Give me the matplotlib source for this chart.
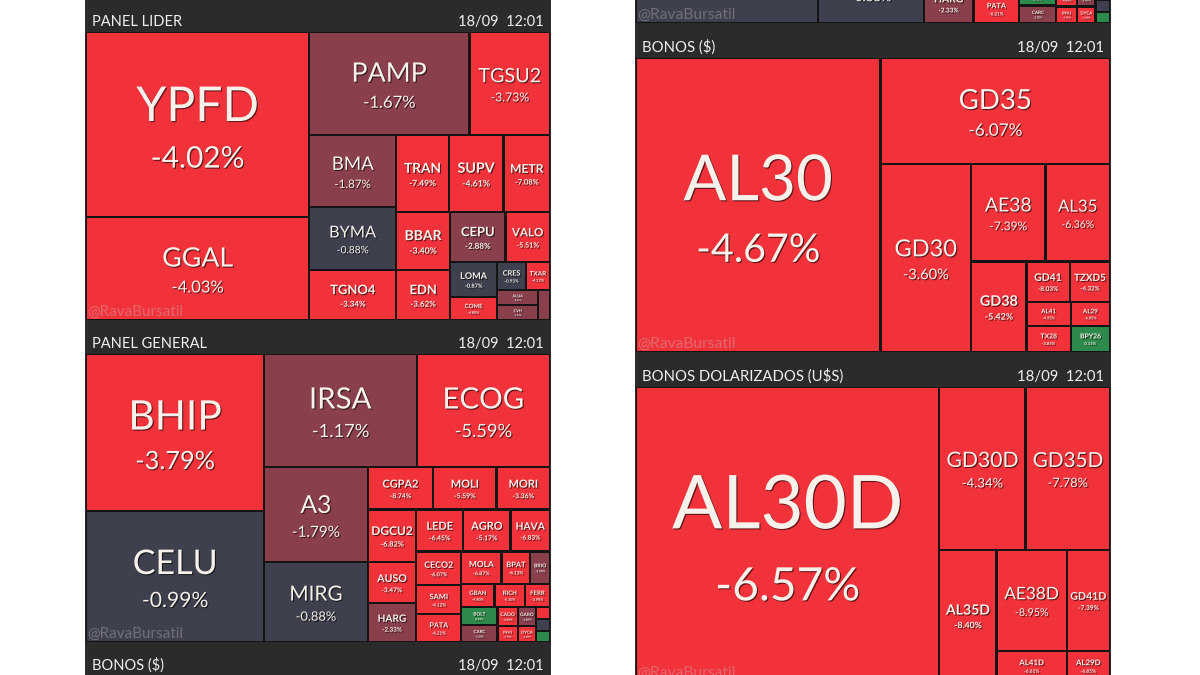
import matplotlib
matplotlib.use('Agg')
import matplotlib.pyplot as plt
import matplotlib.patheffects as pe
from matplotlib.patches import Rectangle

plt.rcParams['font.family'] = ['Lato', 'DejaVu Sans']

# ---- datos (volumen relativo = area del cuadro, variacion %) ----
lider_tickers = ['YPFD', 'GGAL', 'PAMP', 'TGSU2', 'BMA', 'BYMA', 'TGNO4', 'TRAN', 'SUPV', 'METR',
                 'BBAR', 'EDN', 'CEPU', 'VALO', 'LOMA', 'COME', 'CRES', 'TXAR', 'ALUA', 'CVH', 'TECO2']
lider_volume = [40885, 22763, 16377, 8240, 6192, 5418, 4300, 4004, 4158, 3542,
                3074, 2650, 2750, 2200, 1645, 1081, 784, 672, 600, 600, 360]
lider_change = [-4.02, -4.03, -1.67, -3.73, -1.87, -0.88, -3.34, -7.49, -4.61, -7.08,
                -3.40, -3.62, -2.88, -5.51, -0.87, -4.00, -0.93, -4.12, -2.41, -1.95, -2.10]
lider_strips = [('v', 2), ('h', 2), ('v', 3), ('h', 3), ('v', 2), ('h', 2), ('v', 2), ('h', 2), ('v', 2), ('v', 1)]

general_tickers = ['BHIP', 'CELU', 'IRSA', 'ECOG', 'A3', 'MIRG', 'CGPA2', 'MOLI', 'MORI',
                   'DGCU2', 'AUSO', 'HARG', 'LEDE', 'AGRO', 'HAVA', 'CECO2', 'SAMI', 'PATA',
                   'MOLA', 'BPAT', 'BRIO', 'GBAN', 'RICH', 'FERR', 'BOLT', 'CARC', 'CADO', 'INVJ',
                   'GARO', 'DYCA', 'ROSE', 'CTIO', 'LONG']
general_volume = [27632, 23056, 17063, 14916, 9690, 8160, 2730, 2646, 2226,
                  2544, 1968, 1872, 1932, 1974, 1638, 1496, 1276, 1232,
                  1287, 924, 627, 759, 690, 575, 648, 612, 380, 320,
                  342, 288, 168, 168, 154]
general_change = [-3.79, -0.99, -1.17, -5.59, -1.79, -0.88, -8.74, -5.59, -3.36,
                  -6.82, -3.47, -2.33, -6.45, -5.17, -6.83, -6.07, -4.12, -6.21,
                  -6.87, -6.13, -2.45, -4.80, -5.10, -3.90, 0.45, -2.20, -4.60, -3.70,
                  -2.60, -4.20, -3.30, -0.60, 0.80]
general_strips = [('v', 2), ('h', 2), ('v', 2), ('h', 3), ('v', 3), ('h', 3), ('v', 3), ('h', 3),
                  ('h', 3), ('v', 2), ('v', 2), ('v', 2), ('v', 3)]

bonos_tickers = ['AL30', 'GD35', 'GD30', 'AE38', 'AL35', 'GD38', 'GD41', 'TZXD5',
                 'AL41', 'AL29', 'TX28', 'BPY26']
bonos_volume = [71199, 24168, 16830, 7178, 6208, 4950, 1720, 1600, 1056, 936, 1144, 1014]
bonos_change = [-4.67, -6.07, -3.60, -7.39, -6.36, -5.42, -8.03, -4.32, -4.95, -6.05, -3.85, 0.15]
bonos_strips = [('v', 1), ('h', 1), ('v', 1), ('h', 2), ('v', 1), ('h', 2), ('h', 2), ('h', 2)]

dolar_tickers = ['AL30D', 'GD30D', 'GD35D', 'AL35D', 'AE38D', 'GD41D', 'AL41D', 'AL29D']
dolar_volume = [88494, 14000, 13700, 7410, 7000, 4300, 2100, 1290]
dolar_change = [-6.57, -4.34, -7.78, -8.40, -8.95, -7.39, -6.61, -6.85]
dolar_strips = [('v', 1), ('h', 2), ('v', 1), ('h', 2), ('h', 2)]

panel_titles = ['PANEL LIDER', 'PANEL GENERAL', 'BONOS ($)', 'BONOS DOLARIZADOS (U$S)']
stamp = '18/09  12:01'

panels = [(lider_tickers, lider_volume, lider_change, lider_strips),
          (general_tickers, general_volume, general_change, general_strips),
          (bonos_tickers, bonos_volume, bonos_change, bonos_strips),
          (dolar_tickers, dolar_volume, dolar_change, dolar_strips)]

HEADER = '#2b2b2b'
GAP = '#141414'
PAGE_W = 466
HEAD_H = 34
CELL_H = 288


def cell_color(chg):
    if chg > 0:
        return '#2e8a4c'
    if chg > -1:
        return '#3e404e'
    if chg > -3:
        return '#8a3f4c'
    return '#f2323b'


def layout(x, y, w, h, values, strips):
    # tiras al estilo squarify, la direccion de cada tira viene dada
    rects = []
    i = 0
    for d, n in strips:
        part = values[i:i + n]
        frac = sum(part) / sum(values[i:])
        if d == 'v':
            cw = w * frac
            cy = y
            for v in part:
                ch = h * v / sum(part)
                rects.append((x, cy, cw, ch))
                cy += ch
            x += cw
            w -= cw
        else:
            rh = h * frac
            cx = x
            for v in part:
                cw = w * v / sum(part)
                rects.append((cx, y, cw, rh))
                cx += cw
            y += rh
            h -= rh
        i += n
    return rects


def visible(view, base, cap):
    # el texto ocupa [base - cap, base] en coordenadas de pagina
    return base > view[0] and base - cap < view[1]


def label_cell(ax, x, y, w, h, name, chg, scale, view):
    fs = min(0.26 * min(w, h), 0.76 * w / (0.62 * len(name)))
    if fs * scale < 3.5:
        return
    cap = 0.717 * fs
    cx, cy = x + w / 2, y + h / 2
    weight = 'normal' if fs * scale > 16 else 'bold'
    shadow = [pe.withSimplePatchShadow(offset=(0.8, -0.8), shadow_rgbFace='black', alpha=0.6)]
    b1 = cy - 0.1 * cap
    b2 = cy + 1.25 * cap
    if visible(view, b1, cap):
        ax.text(cx, b1, name, fontsize=fs * scale * 0.72, ha='center', va='baseline',
                color='#f6f1ea', weight=weight, path_effects=shadow, clip_on=True)
    if visible(view, b2, 0.62 * cap):
        ax.text(cx, b2, f'{chg:.2f}%', fontsize=0.62 * fs * scale * 0.72, ha='center',
                va='baseline', color='#f6f1ea', weight=weight, path_effects=shadow, clip_on=True)


def draw_page(ax, scale, view):
    ax.set_facecolor(HEADER)
    for k, (tickers, volume, change, strips) in enumerate(panels):
        top = -2 + k * (HEAD_H + CELL_H)
        if visible(view, top + 28, 12):
            ax.text(7, top + 28, panel_titles[k], fontsize=10.5 * scale, color='#f0f0f0',
                    va='baseline', ha='left', clip_on=True)
            ax.text(PAGE_W - 7, top + 28, stamp, fontsize=10.5 * scale, color='#f0f0f0',
                    va='baseline', ha='right', clip_on=True)
        y0 = top + HEAD_H
        ax.add_patch(Rectangle((1, y0), PAGE_W - 2, CELL_H, color=GAP, lw=0))
        rects = layout(1, y0, PAGE_W - 2, CELL_H, volume, strips)
        for (x, y, w, h), name, chg in zip(rects, tickers, change):
            ax.add_patch(Rectangle((x + 1.1, y + 1.1), w - 2.2, h - 2.2,
                                   color=cell_color(chg), lw=0))
            label_cell(ax, x, y, w, h, name, chg, scale, view)
        if visible(view, y0 + CELL_H - 4, 12):
            ax.text(2, y0 + CELL_H - 4, '@RavaBursatil', fontsize=11 * scale, color='#c8c8c8',
                    alpha=0.35, ha='left', va='baseline', clip_on=True)


fig = plt.figure(figsize=(12, 6.75), dpi=100, facecolor='white')

# columna izquierda: captura sin escalar
view1 = (0, 675)
ax1 = fig.add_axes([85 / 1200, 0, 466 / 1200, 1])
ax1.set_xlim(0, PAGE_W)
ax1.set_ylim(view1[1], view1[0])
draw_page(ax1, 1.0, view1)

# columna derecha: la misma pagina, un poco mas grande y desplazada
s = 476 / 466
top_r = 642 - 23 / s
view2 = (top_r, top_r + 675 / s)
ax2 = fig.add_axes([635 / 1200, 0, 476 / 1200, 1])
ax2.set_xlim(0, PAGE_W)
ax2.set_ylim(view2[1], view2[0])
draw_page(ax2, s, view2)

for ax in (ax1, ax2):
    ax.set_xticks([])
    ax.set_yticks([])
    for sp in ax.spines.values():
        sp.set_visible(False)

fig.savefig('out.png', dpi=100, facecolor='white')
